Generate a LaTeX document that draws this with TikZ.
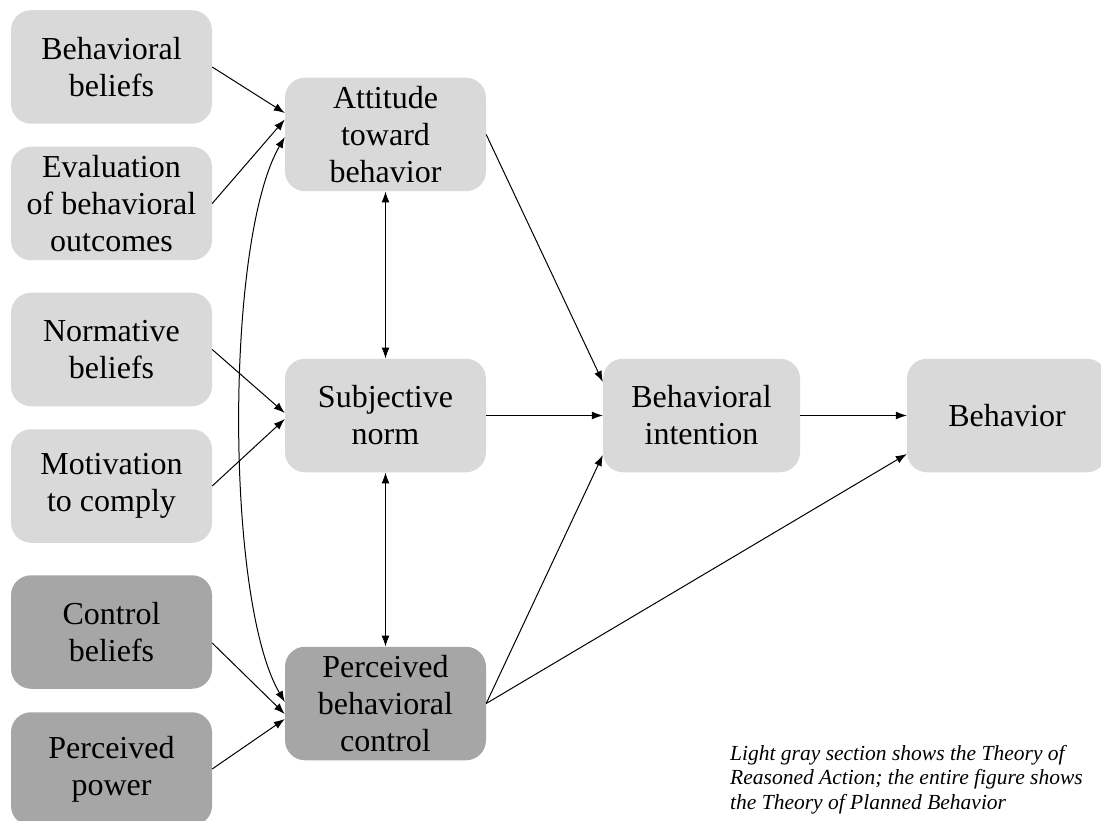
\documentclass[tikz,border=0pt]{standalone}
\usepackage{fontspec}
\setmainfont{Liberation Serif}
\usetikzlibrary{arrows.meta}
\definecolor{lightbox}{HTML}{D9D9D9}
\definecolor{darkbox}{HTML}{A6A6A6}
\tikzset{
  box/.style={fill=lightbox, draw=none, rounded corners=20pt, minimum width=201pt, minimum height=113.5pt, inner sep=0pt, align=center, font=\fontsize{32}{37}\selectfont},
  darkb/.style={box, fill=darkbox},
  conn/.style={line width=1pt, -{Latex[length=11pt,width=8pt]}},
  biconn/.style={line width=1pt, {Latex[length=11pt,width=8pt]}-{Latex[length=11pt,width=8pt]}},
}
\begin{document}
\begin{tikzpicture}[x=1pt,y=-1pt]
\useasboundingbox (0,0) rectangle (1101,821);
\clip (0,0) rectangle (1101,821);
% left column
\node[box] (bb) at (111.5,67) {Behavioral\\beliefs};
\node[box] (ev) at (111.5,203.5) {Evaluation\\of behavioral\\outcomes};
\node[box] (nb) at (111.5,349.5) {Normative\\beliefs};
\node[box] (mc) at (111.5,486) {Motivation\\to comply};
\node[darkb] (cb) at (111.5,632) {Control\\beliefs};
\node[darkb] (pp) at (111.5,769) {Perceived\\power};
% middle column
\node[box] (at) at (385.5,134.5) {Attitude\\toward\\behavior};
\node[box] (sn) at (385.5,415.5) {Subjective\\norm};
\node[darkb] (pbc) at (385.5,703.5) {Perceived\\behavioral\\control};
% right
\node[box, minimum width=197pt] (bi) at (701.5,415.5) {Behavioral\\intention};
\node[box, minimum width=200pt] (bh) at (1007,415.5) {Behavior};
% caption
\node[anchor=north west, inner sep=0pt, align=left, font=\fontsize{21.5}{24.5}\selectfont\itshape] (cap) at (730,745) {Light gray section shows the Theory of\\Reasoned Action; the entire figure shows\\the Theory of Planned Behavior};
% connectors left -> middle
\draw[conn] (bb.east) -- ([yshift=21.5pt]at.west);
\draw[conn] (ev.east) -- ([yshift=15pt]at.west);
\draw[conn] (nb.east) -- ([yshift=2.5pt]sn.west);
\draw[conn] (mc.east) -- ([yshift=-3.5pt]sn.west);
\draw[conn] ([yshift=-11pt]cb.east) -- ([yshift=-10.5pt]pbc.west);
\draw[conn] (pp.east) -- ([yshift=-15.5pt]pbc.west);
% curved double arrow
\draw[biconn] ([yshift=-2.5pt]at.west) .. controls (225,240) and (225,600) .. ([yshift=1.5pt]pbc.west);
% vertical double arrows
\draw[biconn] (at.south) -- (sn.north);
\draw[biconn] (sn.south) -- (pbc.north);
% middle -> intention
\draw[conn] (at.east) -- ([yshift=33.5pt]bi.west);
\draw[conn] (sn.east) -- (bi.west);
\draw[conn] (pbc.east) -- ([yshift=-39.5pt]bi.west);
% -> behavior
\draw[conn] (bi.east) -- (bh.west);
\draw[conn] (pbc.east) -- ([yshift=-38.5pt]bh.west);
\end{tikzpicture}
\end{document}
